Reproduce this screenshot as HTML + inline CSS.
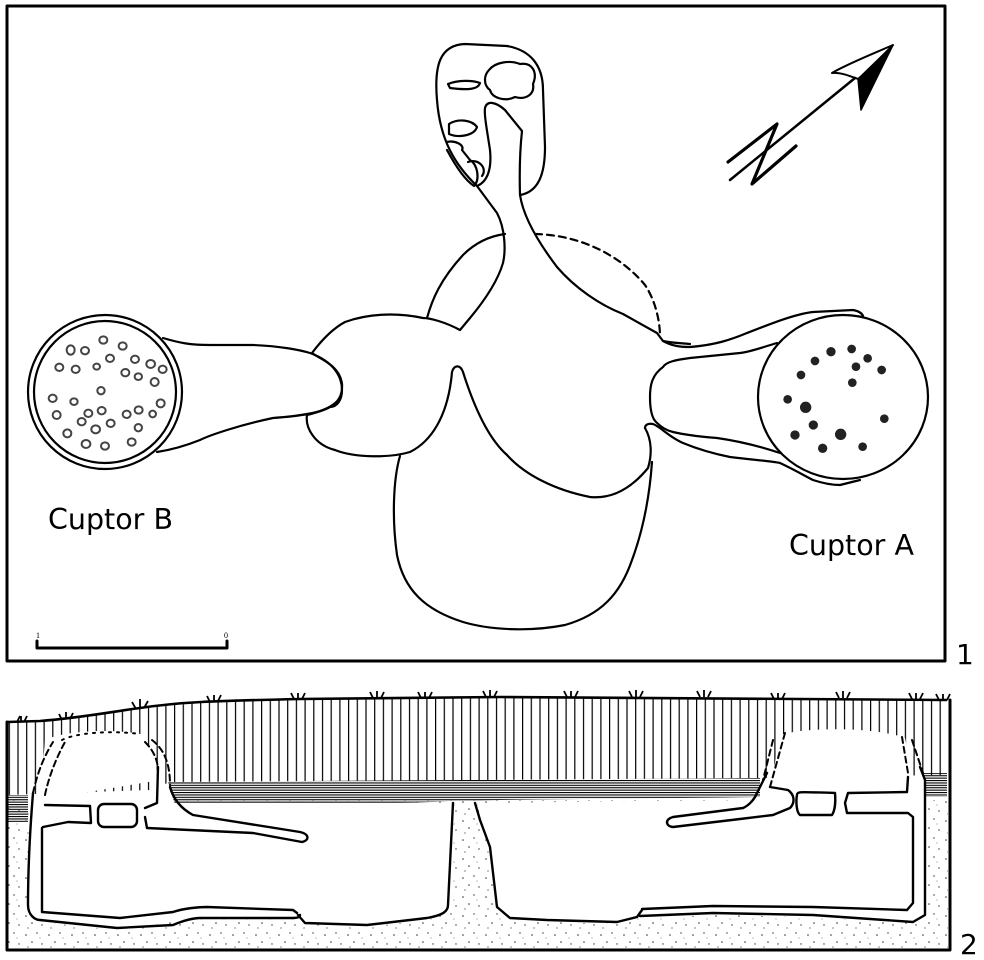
<!DOCTYPE html>
<html><head><meta charset="utf-8"><style>
html,body{margin:0;padding:0;background:#fff;}
svg{display:block;}
</style></head><body>
<svg width="984" height="960" viewBox="0 0 984 960" xmlns="http://www.w3.org/2000/svg">
<defs>
<pattern id="vh" width="8.7" height="20" patternUnits="userSpaceOnUse"><rect x="0" y="0" width="1.2" height="20" fill="#000"/></pattern>
<pattern id="hh" width="20" height="2.4" patternUnits="userSpaceOnUse"><rect x="0" y="0" width="20" height="1.1" fill="#000"/></pattern>
<pattern id="st" width="23" height="19" patternUnits="userSpaceOnUse">
<circle cx="3" cy="4" r="0.8" fill="#333"/><circle cx="14" cy="2" r="0.7" fill="#333"/><circle cx="9" cy="11" r="0.8" fill="#333"/><circle cx="19" cy="13" r="0.7" fill="#333"/><circle cx="5" cy="16" r="0.6" fill="#333"/><circle cx="17" cy="7" r="0.5" fill="#555"/>
</pattern>
</defs>
<g fill="none" stroke="#000" stroke-width="2.2" stroke-linejoin="round" stroke-linecap="round">
<rect x="7" y="6" width="938" height="655" stroke-width="3"/>

<path d="M477,186 C455,165 440,140 437,100 C434,65 440,45 465,44 L507,46 C530,50 543,65 543,90 L545,147 C545,175 538,192 520,195"/>
<path d="M477,186 C487,182 492,170 490,150 C487,130 484,115 485,108 C487,100 496,102 505,110 L522,131 C521,140 519,160 520,195 C523,215 535,238 557,267 C575,288 600,305 623,314 L657,333 L663,341 C672,343 680,343 690,344"/>
<path d="M477,186 L497,213 C505,228 506,250 503,263 C498,280 485,300 470,318 L460,330 C445,322 430,318 423,318 C395,312 367,314 345,322 C330,330 318,345 312,353"/>
<path d="M489,70 C495,62 510,60 520,64 C532,62 538,72 533,84 C535,95 525,100 515,97 C505,102 492,98 490,90 C483,85 484,75 489,70 Z"/>
<path d="M448,84 C458,80 472,80 480,83 C478,90 466,90 450,88 Z"/>
<path d="M449,124 C458,118 472,120 477,127 C474,136 458,138 449,134 Z"/>
<path d="M447,142 C455,140 465,145 462,150 L470,160 C478,165 480,180 474,186 C465,180 455,165 447,150"/>
<path d="M468,162 C478,158 488,168 482,176"/>
<path d="M427,318 C432,300 440,280 463,255 C475,243 490,236 505,234"/>
<path d="M535,234 C580,235 620,255 645,285 C655,300 660,320 660,337" stroke-dasharray="7,5"/>
<path d="M312,353 C318,358 340,365 342,384 C343,400 335,408 307,415 C305,428 315,445 335,450 C355,458 390,458 410,452 C430,442 448,418 452,372 C454,365 460,364 463,372 C475,410 490,440 507,455 C525,475 555,490 590,497 C610,499 630,490 648,468 C652,455 652,440 645,428"/>
<path d="M400,456 C393,480 392,520 397,555 C404,590 425,610 463,622 C490,630 530,632 565,625 C600,615 620,595 632,560 C645,525 650,490 652,462"/>
<path d="M163,338 C180,343 190,345 210,345 L253,345 C280,346 300,350 310,353 C335,362 342,378 342,390 C342,400 337,407 330,407 C320,413 300,416 273,418 C240,425 210,435 200,440 C185,446 170,450 157,452"/>
<circle cx="105" cy="392" r="77"/>
<circle cx="105" cy="392" r="71"/>
<path d="M663,341 C672,346 680,347 690,347 C715,345 730,340 747,333 C770,324 795,314 813,312 L853,310 C858,311 862,313 863,316"/>
<path d="M777,343 C760,348 750,352 740,353 L690,358 C675,360 666,362 663,367 C652,375 650,385 650,397 C650,410 652,418 656,422 C662,428 668,431 673,432 C690,436 705,437 717,438 C745,442 765,448 780,453"/>
<path d="M645,428 C645,425 648,423 653,424 C656,425 658,427 660,428 C670,436 676,440 683,443 C700,450 715,454 730,457 C755,460 770,461 780,463 C795,470 805,476 813,480 C825,484 832,485 840,485 L860,480"/>
<ellipse cx="843" cy="397" rx="85" ry="82"/>

<path d="M730,180 L855,78" stroke-width="2.5"/>
<path d="M832,73 C840,72 850,76 858,79 C870,70 880,58 893,45 C870,55 845,65 832,73 Z" stroke-width="2"/>
<path d="M893,45 L858,79 L861,110 Z" fill="#000" stroke-width="1.5"/>
<path d="M728,162 L777,124 L752,184 L796,146" stroke-width="3.2"/>

<path d="M37,641 L37,648 L227,648 L227,641" stroke-width="3"/>
</g>
<text x="36" y="638" font-family="Liberation Serif,serif" font-size="8">1</text>
<text x="224" y="638" font-family="Liberation Serif,serif" font-size="8">0</text>

<g fill="#fff" stroke="#444" stroke-width="6">
<g transform="translate(20,300) scale(0.3333)">
<ellipse cx="250" cy="120" rx="12" ry="11"/><ellipse cx="308" cy="138" rx="12" ry="11"/><ellipse cx="152" cy="150" rx="12" ry="14"/><ellipse cx="195" cy="152" rx="12" ry="11"/><ellipse cx="270" cy="175" rx="12" ry="11"/><ellipse cx="345" cy="178" rx="12" ry="11"/><ellipse cx="392" cy="192" rx="13" ry="12"/><ellipse cx="118" cy="202" rx="12" ry="11"/><ellipse cx="167" cy="208" rx="12" ry="11"/><ellipse cx="230" cy="200" rx="10" ry="9"/><ellipse cx="316" cy="218" rx="12" ry="11"/><ellipse cx="355" cy="230" rx="11" ry="10"/><ellipse cx="428" cy="208" rx="12" ry="11"/><ellipse cx="404" cy="246" rx="12" ry="12"/><ellipse cx="243" cy="272" rx="11" ry="11"/><ellipse cx="98" cy="295" rx="12" ry="11"/><ellipse cx="162" cy="305" rx="11" ry="10"/><ellipse cx="422" cy="310" rx="12" ry="12"/><ellipse cx="110" cy="345" rx="12" ry="12"/><ellipse cx="205" cy="340" rx="12" ry="11"/><ellipse cx="245" cy="332" rx="12" ry="11"/><ellipse cx="320" cy="343" rx="12" ry="11"/><ellipse cx="356" cy="330" rx="12" ry="11"/><ellipse cx="398" cy="342" rx="10" ry="10"/><ellipse cx="185" cy="365" rx="12" ry="11"/><ellipse cx="272" cy="370" rx="12" ry="11"/><ellipse cx="142" cy="400" rx="12" ry="12"/><ellipse cx="227" cy="388" rx="13" ry="12"/><ellipse cx="355" cy="383" rx="11" ry="11"/><ellipse cx="198" cy="432" rx="13" ry="12"/><ellipse cx="255" cy="438" rx="12" ry="11"/><ellipse cx="335" cy="426" rx="12" ry="11"/>
</g>
</g>
<g fill="#222">
<g transform="translate(640,300) scale(0.3333)">
<circle cx="573" cy="155" r="14"/><circle cx="635" cy="147" r="13"/><circle cx="683" cy="175" r="13"/><circle cx="525" cy="183" r="13"/><circle cx="648" cy="200" r="13"/><circle cx="725" cy="210" r="13"/><circle cx="483" cy="225" r="13"/><circle cx="637" cy="248" r="13"/><circle cx="443" cy="298" r="13"/><circle cx="497" cy="322" r="17"/><circle cx="733" cy="356" r="13"/><circle cx="520" cy="375" r="14"/><circle cx="465" cy="405" r="14"/><circle cx="602" cy="403" r="17"/><circle cx="548" cy="445" r="14"/><circle cx="668" cy="440" r="13"/>
</g>
</g>

<text x="48" y="529" font-family="DejaVu Sans,sans-serif" font-size="28.5">Cuptor B</text>
<text x="789" y="555" font-family="DejaVu Sans,sans-serif" font-size="28.5">Cuptor A</text>
<text x="956" y="664" font-family="DejaVu Sans,sans-serif" font-size="28">1</text>
<text x="960" y="954" font-family="DejaVu Sans,sans-serif" font-size="28">2</text>

<polygon points="7,722 60,720 140,708 210,702 300,699 500,697 946,699 946,775 760,778 170,782 150,790 7,795" fill="url(#vh)"/>
<path d="M45,740 C60,732 110,727 145,735 L160,780 L40,800 Z" fill="#fff"/>
<path d="M780,735 C810,726 880,728 905,738 L915,790 L770,790 Z" fill="#fff"/>
<polygon points="168,782 760,778 760,797 500,800 330,805 175,805" fill="url(#hh)"/>
<rect x="7" y="795" width="21" height="27" fill="url(#hh)"/>
<rect x="924" y="773" width="23" height="24" fill="url(#hh)"/>
<rect x="8" y="800" width="940" height="148" fill="url(#st)"/>
<polygon points="30,797 160,797 175,803 453,803 453,910 427,920 367,927 305,924 295,918 200,918 117,930 40,922 28,913" fill="#fff"/>
<polygon points="478,803 760,800 925,797 927,915 913,923 813,917 713,915 640,918 617,924 547,922 510,920 497,907 490,847 480,820" fill="#fff"/>

<g fill="none" stroke="#000" stroke-width="2.4" stroke-linejoin="round" stroke-linecap="round">
<path d="M7,722 L7,950 L950,950 L950,700" stroke-width="3"/>
<path d="M7,722 L40,721 C80,718 110,712 140,708 C180,702 210,701 300,699 L500,697 L946,700" stroke-width="2.6"/>
<path d="M33,793 C30,830 28,870 28,905 C28,915 35,920 40,920 L117,928 L173,925 C185,920 195,918 200,918 L293,918 C298,918 300,917 300,915"/>
<path d="M42,828 L42,912 L120,918 L173,912 C185,908 200,907 207,907 L293,910 L297,913"/>
<path d="M298,915 L305,923 L367,925 L427,918 C445,915 448,910 448,905 L453,803"/>
<path d="M45,805 L90,806 L91,823 L68,822 L43,827"/>
<rect x="98" y="804" width="39" height="23" rx="6"/>
<path d="M145,808 L157,803 L158,767"/>
<path d="M170,787 C173,798 180,808 193,815 L300,832 C309,834 310,840 302,842 L253,833 L147,828 L145,817"/>
<path d="M45,795 C48,780 55,760 65,742 M33,793 C38,770 45,755 53,742" stroke-dasharray="6,4" stroke-width="2"/>
<path d="M62,740 C75,733 110,730 140,734" stroke-dasharray="2,6" stroke-width="2"/>
<path d="M145,742 C155,752 158,762 158,772 M152,740 C165,750 170,765 170,785" stroke-dasharray="6,4" stroke-width="2"/>
<path d="M475,803 L480,820 L490,847 L497,907 L510,918 L547,920 L617,922 L637,917 L642,910"/>
<path d="M642,909 L713,906 L813,907 L907,910 L913,903 L913,817 L908,813 L847,813 L845,803 L848,793 L907,792 L908,777"/>
<path d="M640,916 L713,913 L813,915 L913,922 L925,915 L925,780 L920,767"/>
<path d="M797,795 C797,791 800,792 835,793 C836,805 834,812 832,815 L800,815 C796,812 796,800 797,795 Z"/>
<path d="M770,787 L788,790 C795,795 795,803 790,808 L773,815 L740,819 L673,827 C665,826 665,819 673,817 L743,808 C750,805 755,798 757,793 L767,773"/>
<path d="M773,740 L763,780 M785,733 L770,787" stroke-dasharray="6,4" stroke-width="2"/>
<path d="M902,737 L908,773 M912,740 L923,773" stroke-dasharray="6,4" stroke-width="2"/>
</g>
<g stroke="#000" stroke-width="1.8" fill="none">
<path d="M17,722 l3,-6 M21,722 l0,-6 M24,722 l3,-6"/>
<path d="M62,720 l-3,-6 M66,719 l0,-7 M70,719 l3,-6"/>
<path d="M136,709 l-4,-7 M140,708 l0,-9 M144,708 l4,-7"/>
<path d="M210,702 l-3,-6 M214,701 l0,-6 M218,701 l3,-6"/>
<path d="M294,699 l-3,-6 M298,699 l0,-6 M302,699 l3,-6"/>
<path d="M373,698 l-3,-6 M377,698 l0,-7 M381,698 l3,-6"/>
<path d="M421,698 l-3,-6 M425,698 l0,-6 M429,698 l3,-6"/>
<path d="M486,697 l-3,-6 M490,697 l0,-7 M494,697 l3,-6"/>
<path d="M567,697 l-3,-6 M571,697 l0,-6 M575,697 l3,-6"/>
<path d="M632,697 l-3,-6 M636,697 l0,-7 M640,697 l3,-6"/>
<path d="M700,697 l-3,-6 M704,697 l0,-7 M708,697 l3,-6"/>
<path d="M774,699 l-3,-6 M778,699 l0,-6 M782,699 l3,-6"/>
<path d="M839,698 l-3,-6 M843,698 l0,-7 M847,698 l3,-6"/>
<path d="M912,699 l-3,-6 M916,699 l0,-6 M920,699 l3,-6"/>
<path d="M939,700 l-3,-6 M943,700 l0,-6 M947,700 l3,-6"/>
</g>
</svg>
</body></html>
